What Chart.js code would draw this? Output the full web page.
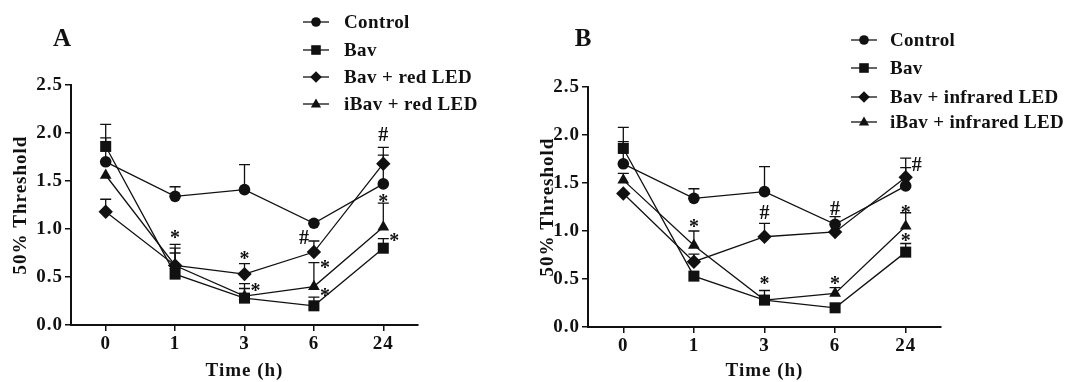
<!DOCTYPE html>
<html><head><meta charset="utf-8">
<script src="https://cdn.jsdelivr.net/npm/chart.js@4.4.1/dist/chart.umd.min.js"></script>
<style>
html,body{margin:0;padding:0;background:#fff;}
#wrap{position:relative;width:1072px;height:382px;background:#fff;}
canvas{position:absolute;top:0;}
#cA{left:0;} #cB{left:536px;}
</style></head><body>
<div id="wrap"><canvas id="cA" width="536" height="382"></canvas><canvas id="cB" width="536" height="382"></canvas></div>
<script>
// ---------- data ----------
const categories = ['0', '1', '3', '6', '24'];
const yTickValues = [0, 0.5, 1.0, 1.5, 2.0, 2.5];
const namesA = ['Control', 'Bav', 'Bav + red LED', 'iBav + red LED'];
const namesB = ['Control', 'Bav', 'Bav + infrared LED', 'iBav + infrared LED'];

// Panel A (mean, SEM upward)
const controlA     = [1.70, 1.34, 1.41, 1.06, 1.47];
const controlA_sem = [0.39, 0.10, 0.26, 0.00, 0.30];
const bavA         = [1.86, 0.53, 0.28, 0.20, 0.80];
const bavA_sem     = [0.09, 0.22, 0.10, 0.09, 0.10];
const redA         = [1.18, 0.62, 0.53, 0.76, 1.68];
const redA_sem     = [0.13, 0.22, 0.11, 0.115, 0.17];
const iRedA        = [1.56, 0.62, 0.30, 0.40, 1.02];
const iRedA_sem    = [0.00, 0.18, 0.13, 0.25, 0.25];
// significance marks A: [text, category index, value, side]
const marksA = [
  ['*', 1, 0.95, 'c'], ['*', 2, 0.73, 'c'], ['*', 2, 0.40, 'r'],
  ['#', 3, 0.92, 'l'], ['*', 3, 0.64, 'r'], ['*', 3, 0.34, 'r'],
  ['#', 4, 1.99, 'c'], ['*', 4, 1.32, 'c'], ['*', 4, 0.92, 'r']
];

// Panel B
const controlB     = [1.70, 1.34, 1.41, 1.07, 1.47];
const controlB_sem = [0.38, 0.10, 0.26, 0.00, 0.19];
const bavB         = [1.86, 0.53, 0.28, 0.20, 0.78];
const bavB_sem     = [0.07, 0.00, 0.00, 0.00, 0.09];
const irB          = [1.39, 0.68, 0.94, 0.99, 1.56];
const irB_sem      = [0.00, 0.08, 0.14, 0.16, 0.20];
const iIrB         = [1.53, 0.85, 0.28, 0.35, 1.05];
const iIrB_sem     = [0.07, 0.15, 0.10, 0.06, 0.14];
const marksB = [
  ['*', 1, 1.08, 'c'], ['#', 2, 1.20, 'c'], ['*', 2, 0.49, 'c'],
  ['#', 3, 1.24, 'c'], ['*', 3, 0.49, 'c'],
  ['#', 4, 1.70, 'r'], ['*', 4, 1.23, 'c'], ['*', 4, 0.94, 'c']
];

// ---------- drawing ----------
const FONT = '"Liberation Serif", "Times New Roman", serif';
const styles = ['circle', 'rect', 'rectRot', 'triangle'];
const radii = [5.8, 7.8, 7.2, 6.8];

function drawMarker(ctx, style, x, y, r) {
  ctx.beginPath();
  if (style === 'circle') ctx.arc(x, y, r, 0, Math.PI * 2);
  else if (style === 'rect') ctx.rect(x - r, y - r, 2 * r, 2 * r);
  else if (style === 'rectRot') { ctx.moveTo(x, y - r); ctx.lineTo(x + r, y); ctx.lineTo(x, y + r); ctx.lineTo(x - r, y); ctx.closePath(); }
  else { ctx.moveTo(x, y - r); ctx.lineTo(x + r * 0.95, y + r * 0.65); ctx.lineTo(x - r * 0.95, y + r * 0.65); ctx.closePath(); }
  ctx.fill();
}

function makePanel(canvasId, cfg) {
  const sets = cfg.series.map((vals, i) => ({
    label: cfg.names[i], data: vals,
    borderColor: '#111', backgroundColor: '#111', borderWidth: 1.3,
    pointStyle: styles[i], pointRadius: radii[i], pointHoverRadius: radii[i],
    pointBackgroundColor: '#111', pointBorderColor: '#111', pointBorderWidth: 0,
    tension: 0, fill: false, clip: false
  }));
  const extras = {
    id: 'extras',
    beforeDraw(chart) {
      chart.ctx.letterSpacing = '1px';
    },
    beforeDatasetsDraw(chart) {
      const ctx = chart.ctx, xs = chart.scales.x, ys = chart.scales.y;
      ctx.save(); ctx.strokeStyle = '#111'; ctx.lineWidth = 1.3;
      cfg.series.forEach((vals, i) => {
        vals.forEach((v, j) => {
          const e = cfg.sems[i][j];
          if (!e) return;
          const x = xs.getPixelForValue(j), y0 = ys.getPixelForValue(v), y1 = ys.getPixelForValue(v + e);
          ctx.beginPath(); ctx.moveTo(x, y0); ctx.lineTo(x, y1);
          ctx.moveTo(x - 5.5, y1); ctx.lineTo(x + 5.5, y1); ctx.stroke();
        });
      });
      ctx.restore();
    },
    afterDraw(chart) {
      const ctx = chart.ctx, xs = chart.scales.x, ys = chart.scales.y;
      ctx.save();
      ctx.fillStyle = '#111';
      ctx.letterSpacing = '0px';
      // marks
      ctx.font = 'bold 20px ' + FONT;
      ctx.textAlign = 'center'; ctx.textBaseline = 'alphabetic';
      cfg.marks.forEach(([t, j, v, side]) => {
        let x = xs.getPixelForValue(j);
        if (side === 'r') x += 11; else if (side === 'l') x -= 10;
        const m = ctx.measureText(t);
        const y = ys.getPixelForValue(v);
        const off = (m.actualBoundingBoxAscent - m.actualBoundingBoxDescent) / 2;
        ctx.fillText(t, x, y + off);
      });
      // panel letter
      ctx.font = 'bold 25px ' + FONT;
      ctx.textBaseline = 'middle';
      ctx.fillText(cfg.letter, cfg.letterX, 40);
      // legend
      ctx.font = 'bold ' + cfg.legFont + 'px ' + FONT;
      ctx.letterSpacing = cfg.legSpacing;
      ctx.textAlign = 'left';
      ctx.strokeStyle = '#111'; ctx.lineWidth = 1.3;
      cfg.names.forEach((n, k) => {
        const y = cfg.legRows[k];
        const x1 = cfg.legX, x2 = cfg.legX + 26;
        ctx.beginPath(); ctx.moveTo(x1, y); ctx.lineTo(x2, y); ctx.stroke();
        drawMarker(ctx, styles[k], (x1 + x2) / 2, y, [4.8, 4.8, 5.8, 5.4][k]);
        ctx.fillText(n, cfg.legTextX, y + 1);
      });
      ctx.restore();
    }
  };
  const tickFont = { family: FONT, size: 19, weight: 'bold' };
  return new Chart(document.getElementById(canvasId), {
    type: 'line',
    data: { labels: categories, datasets: sets },
    options: {
      responsive: false, animation: false,
      events: [],
      layout: { padding: { left: 0, top: cfg.top, right: cfg.right, bottom: 0 } },
      plugins: { legend: { display: false }, tooltip: { enabled: false } },
      scales: {
        x: {
          type: 'category', offset: true,
          grid: { display: true, drawOnChartArea: false, drawTicks: true, tickLength: 6, color: '#111', lineWidth: 1.5 },
          border: { display: true, color: '#111', width: 2 },
          ticks: { color: '#111', font: tickFont, padding: 2 },
          title: { display: true, text: 'Time (h)', color: '#111', font: tickFont, padding: { top: 0, bottom: 0 } },
          afterFit: s => { s.height = cfg.xH; }
        },
        y: {
          min: 0, max: 2.5,
          afterBuildTicks: s => { s.ticks = yTickValues.map(v => ({ value: v })); },
          grid: { display: true, drawOnChartArea: false, drawTicks: true, tickLength: 6, color: '#111', lineWidth: 1.5 },
          border: { display: true, color: '#111', width: 2 },
          ticks: { color: '#111', font: tickFont, padding: 2, callback: v => Number(v).toFixed(1) },
          title: { display: true, text: '50% Threshold', color: '#111', font: tickFont, padding: { top: cfg.yTitlePad, bottom: 0 } },
          afterFit: s => { s.width = cfg.yW; }
        }
      }
    },
    plugins: [extras]
  });
}

makePanel('cA', {
  names: namesA, series: [controlA, bavA, redA, iRedA], sems: [controlA_sem, bavA_sem, redA_sem, iRedA_sem],
  marks: marksA, letter: 'A', letterX: 62,
  legX: 303, legTextX: 344, legRows: [22, 50, 77, 104], legFont: 19, legSpacing: '0.4px',
  top: 85, right: 118, xH: 57, yW: 71, yTitlePad: 10
});
makePanel('cB', {
  names: namesB, series: [controlB, bavB, irB, iIrB], sems: [controlB_sem, bavB_sem, irB_sem, iIrB_sem],
  marks: marksB, letter: 'B', letterX: 47,
  legX: 315, legTextX: 354, legRows: [40, 68, 97, 122], legFont: 19, legSpacing: '0.3px',
  top: 87, right: 131, xH: 55, yW: 52, yTitlePad: 1
});
</script>
</body></html>
